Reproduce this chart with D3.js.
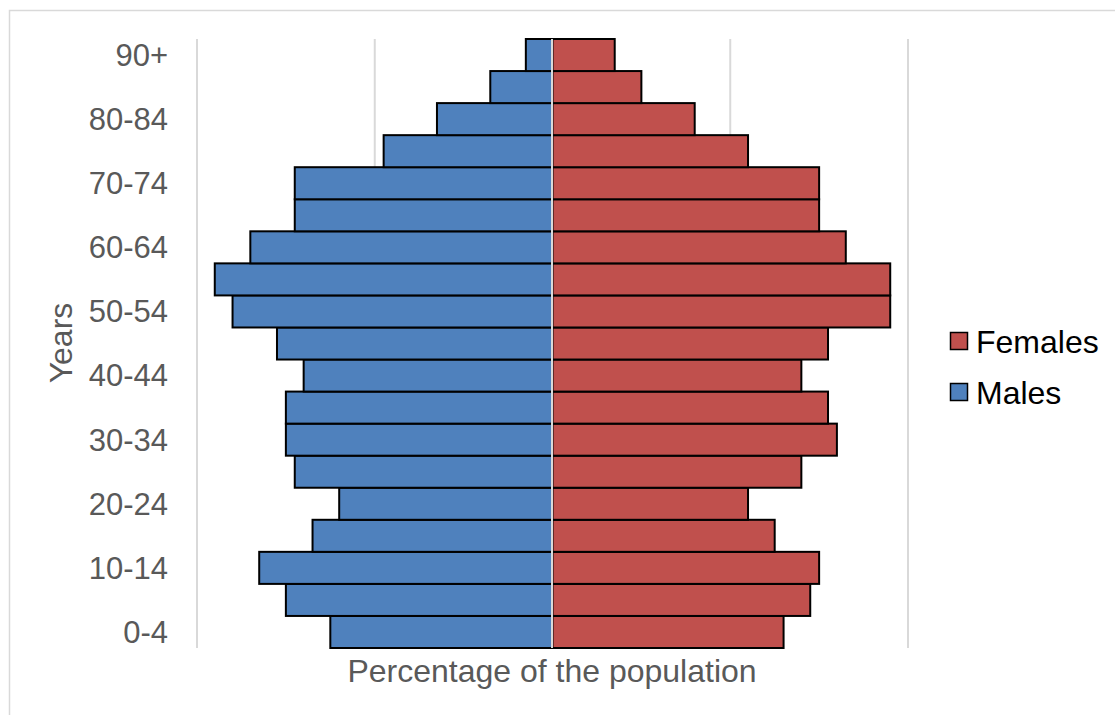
<!DOCTYPE html>
<html><head><meta charset="utf-8">
<script src="https://cdn.jsdelivr.net/npm/d3@7"></script>
<style>body{margin:0;background:#fff;}svg{display:block;font-family:"Liberation Sans",Arial,sans-serif;}</style>
</head><body>
<svg id="c" width="1115" height="715"></svg>
<script>
const ageGroups = ["0-4","5-9","10-14","15-19","20-24","25-29","30-34","35-39","40-44","45-49","50-54","55-59","60-64","65-69","70-74","75-79","80-84","85-89","90+"];
const males   = [2.5,3.0,3.3,2.7,2.4,2.9,3.0,3.0,2.8,3.1,3.6,3.8,3.4,2.9,2.9,1.9,1.3,0.7,0.3];
const females = [2.6,2.9,3.0,2.5,2.2,2.8,3.2,3.1,2.8,3.1,3.8,3.8,3.3,3.0,3.0,2.2,1.6,1.0,0.7];
const gridValues = [-4,-2,0,2,4];
const seriesNames = ["Females","Males"];
const colors = {Females:"#C0504D", Males:"#4F81BD"};

const svg = d3.select("#c");
svg.append("rect").attr("x",9.5).attr("y",10.5).attr("width",1120).attr("height",720)
  .attr("fill","none").attr("stroke","#d9d9d9").attr("stroke-width",1.5);

const x = d3.scaleLinear().domain([-4,4]).range([197,908]);
const y = d3.scaleBand().domain(ageGroups.slice().reverse()).range([39,648]).padding(0);

// gridlines
svg.append("g").selectAll("line").data(gridValues.filter(v=>v!==0)).join("line")
  .attr("x1",d=>x(d)).attr("x2",d=>x(d)).attr("y1",39).attr("y2",648)
  .attr("stroke","#d9d9d9").attr("stroke-width",2);

// bars
const data = ageGroups.map((a,i)=>({a, m:males[i], f:females[i]}));
svg.append("g").selectAll("rect").data(data).join("rect")
  .attr("x",d=>x(-d.m)).attr("width",d=>x(0)-x(-d.m))
  .attr("y",d=>y(d.a)).attr("height",y.bandwidth())
  .attr("fill",colors.Males).attr("stroke","#000").attr("stroke-width",2);
svg.append("g").selectAll("rect").data(data).join("rect")
  .attr("x",x(0)).attr("width",d=>x(d.f)-x(0))
  .attr("y",d=>y(d.a)).attr("height",y.bandwidth())
  .attr("fill",colors.Females).attr("stroke","#000").attr("stroke-width",2);

// center axis line
svg.append("line").attr("x1",x(0)-0.5).attr("x2",x(0)-0.5).attr("y1",39).attr("y2",648)
  .attr("stroke","#d9d9d9").attr("stroke-width",2);

// y labels (every other)
const yAxis = d3.axisLeft(y).tickSize(0).tickPadding(0)
  .tickValues(ageGroups.filter((d,i)=>i%2===0));
const ga = svg.append("g").attr("transform","translate(168,0)").call(yAxis);
ga.select(".domain").remove();
ga.selectAll("text").attr("font-size",31).attr("fill","#595959")
  .attr("font-family","Liberation Sans, Arial, sans-serif").attr("dy","0.35em");

// axis titles
svg.append("text").attr("transform","translate(72,343) rotate(-90)").attr("text-anchor","middle")
  .attr("font-size",32).attr("fill","#595959").text("Years");
svg.append("text").attr("x",552).attr("y",682).attr("text-anchor","middle")
  .attr("font-size",32).attr("fill","#595959").text("Percentage of the population");

// legend
const lg = svg.append("g").selectAll("g").data(seriesNames).join("g")
  .attr("transform",(d,i)=>`translate(950,${341+i*51})`);
lg.append("rect").attr("x",0.5).attr("y",-8.5).attr("width",17).attr("height",17)
  .attr("fill",d=>colors[d]).attr("stroke","#000").attr("stroke-width",1.5);
lg.append("text").attr("x",26).attr("y",0).attr("dy","0.36em").attr("font-size",32)
  .attr("fill","#000").text(d=>d);
</script>
</body></html>
